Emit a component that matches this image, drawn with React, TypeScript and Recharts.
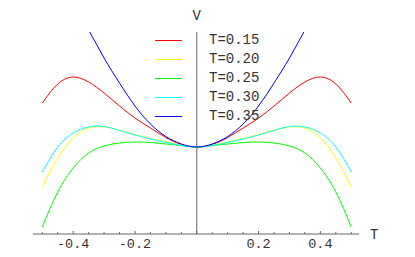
import {LineChart, Line, XAxis, YAxis, ReferenceLine, Legend} from "recharts"

// T along the horizontal axis, one value per data row
const tValues = [
    -0.5, -0.45, -0.4, -0.35, -0.3, -0.25, -0.2, -0.15, -0.1, -0.05, 0,
    0.05, 0.1, 0.15, 0.2, 0.25, 0.3, 0.35, 0.4, 0.45, 0.5,
]

// V for each temperature (arbitrary units)
const v015 = [130, 149, 156, 151, 140, 127, 115, 105, 95.5, 88.5, 86, 88.5, 95.5, 105, 115, 127, 140, 151, 156, 149, 130]
const v020 = [46, 75, 95, 105, 106, 103, 98.5, 94.5, 91, 88, 86, 88, 91, 94.5, 98.5, 103, 106, 105, 95, 75, 46]
const v025 = [6, 41, 65, 80, 87, 90, 91, 90.5, 89, 87.5, 86, 87.5, 89, 90.5, 91, 90, 87, 80, 65, 41, 6]
const v030 = [61, 86, 100, 106, 106.5, 102.5, 98, 94, 90.5, 87.5, 86, 87.5, 90.5, 94, 98, 102.5, 106.5, 106, 100, 86, 61]
const v035 = [290, 260, 230, 203, 175, 150, 127, 109, 96.5, 89, 86, 89, 96.5, 109, 127, 150, 175, 203, 230, 260, 290]

const axisTicks = [
    -0.5, -0.45, -0.4, -0.35, -0.3, -0.25, -0.2, -0.15, -0.1, -0.05, 0,
    0.05, 0.1, 0.15, 0.2, 0.25, 0.3, 0.35, 0.4, 0.45, 0.5,
]
const labeledTicks = [-0.4, -0.2, 0.2, 0.4]
const majorTicks = [-0.4, -0.2, 0, 0.2, 0.4]

const seriesList = [
    {key: "t015", name: "T=0.15", color: "#ff0000", values: v015},
    {key: "t020", name: "T=0.20", color: "#ffff00", values: v020},
    {key: "t025", name: "T=0.25", color: "#00ff00", values: v025},
    {key: "t030", name: "T=0.30", color: "#00ffff", values: v030},
    {key: "t035", name: "T=0.35", color: "#0000ff", values: v035},
]

const data = tValues.map((t, i) => {
    const row: any = {t}
    seriesList.forEach(s => { row[s.key] = s.values[i] })
    return row
})

const FONT = "'Courier New', 'Liberation Mono', monospace"
const AXIS_COLOR = "#666"

const AxisTick = ({x, y, payload}: any) => {
    const v = payload.value
    const isMajor = majorTicks.some(m => Math.abs(m - v) < 1e-6)
    const hasLabel = labeledTicks.some(m => Math.abs(m - v) < 1e-6)
    return (
        <g>
            <line x1={x} x2={x} y1={y} y2={y - (isMajor ? 3 : 2)} stroke={AXIS_COLOR} strokeWidth={1} />
            {hasLabel && (
                <text x={x} y={y + 14} textAnchor="middle" fontFamily={FONT} fontSize={13.5} fill="#333">
                    {v.toFixed(1)}
                </text>
            )}
        </g>
    )
}

const LegendBox = ({payload}: any) => (
    <div style={{fontFamily: FONT, fontSize: 14, color: "#333"}}>
        {(payload || []).map((p: any) => (
            <div key={p.value} style={{display: "flex", alignItems: "center", height: 19}}>
                <span style={{display: "inline-block", width: 27, height: 1.5, background: p.color}} />
                <span style={{marginLeft: 27, lineHeight: "19px"}}>{p.value}</span>
            </div>
        ))}
    </div>
)

export default function App() {
    return (
        <div>
            <style>{"body{margin:0}"}</style>
            <LineChart
                width={415}
                height={257}
                data={data}
                margin={{top: 32, right: 56, left: 33, bottom: 0}}
            >
                <XAxis
                    dataKey="t"
                    type="number"
                    domain={[-0.53, 0.525]}
                    ticks={axisTicks}
                    interval={0}
                    height={23}
                    tickLine={false}
                    tickSize={0}
                    tickMargin={0}
                    axisLine={{stroke: AXIS_COLOR}}
                    tick={<AxisTick />}
                    allowDataOverflow
                />
                <YAxis hide type="number" domain={[-1, 201]} allowDataOverflow />
                <ReferenceLine
                    x={0}
                    stroke={AXIS_COLOR}
                    label={{value: "V", position: "top", offset: 12, fontFamily: FONT, fontSize: 14, fill: "#333"}}
                />
                <ReferenceLine
                    y={-1}
                    stroke="none"
                    label={{value: "T", position: "right", offset: 11, fontFamily: FONT, fontSize: 14, fill: "#333"}}
                />
                <Legend
                    layout="vertical"
                    align="center"
                    verticalAlign="middle"
                    content={<LegendBox />}
                    wrapperStyle={{left: 155, top: 31, width: 120}}
                />
                {seriesList.map(s => (
                    <Line
                        key={s.key}
                        dataKey={s.key}
                        name={s.name}
                        stroke={s.color}
                        strokeWidth={1}
                        type="natural"
                        dot={false}
                        isAnimationActive={false}
                    />
                ))}
            </LineChart>
        </div>
    )
}
